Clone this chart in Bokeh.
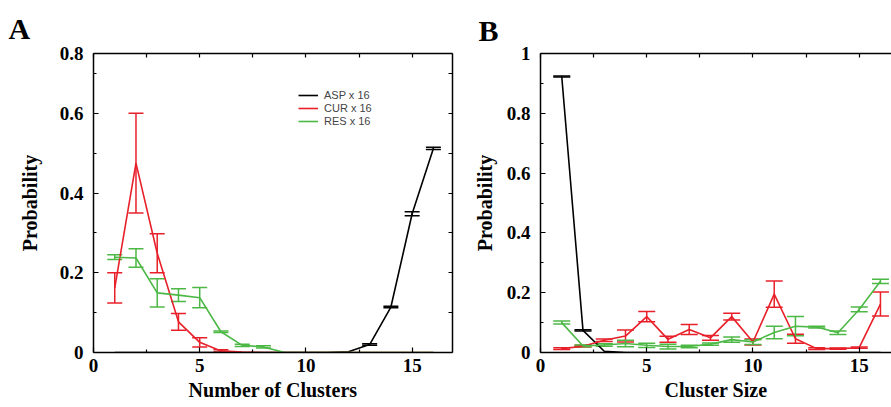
import numpy as np
from bokeh.plotting import figure
from bokeh.layouts import row
from bokeh.models import (Range1d, LinearAxis, FixedTicker, Whisker, TeeHead,
                          ColumnDataSource, Legend, LegendItem, Title)
from bokeh.embed import file_html
from bokeh.resources import INLINE

# ---------------- data ----------------
x = list(range(1, 17))

# Panel A: Number of Clusters
A_ASP = [0, 0, 0, 0, 0, 0, 0, 0, 0, 0, 0, 0.002, 0.02, 0.114, 0.348, 0.512]
A_ASP_err = [0, 0, 0, 0, 0, 0, 0, 0, 0, 0, 0, 0, 0.002, 0.002, 0.005, 0.003]
A_CUR = [0.162, 0.475, 0.249, 0.077, 0.0255, 0.004, 0.001, 0, 0, 0, 0, 0, 0, 0, 0, 0]
A_CUR_err = [0.038, 0.125, 0.049, 0.021, 0.0115, 0.003, 0, 0, 0, 0, 0, 0, 0, 0, 0, 0]
A_RES = [0.239, 0.237, 0.1495, 0.144, 0.1375, 0.052, 0.018, 0.014, 0, 0, 0, 0, 0, 0, 0, 0]
A_RES_err = [0.006, 0.023, 0.0355, 0.016, 0.0255, 0.002, 0.003, 0.003, 0, 0, 0, 0, 0, 0, 0, 0]

# Panel B: Cluster Size
B_ASP = [0.923, 0.074, 0.004, 0, 0, 0, 0, 0, 0, 0, 0, 0, 0, 0, 0, 0]
B_ASP_err = [0.002, 0.002, 0, 0, 0, 0, 0, 0, 0, 0, 0, 0, 0, 0, 0, 0]
B_CUR = [0.013, 0.021, 0.041, 0.055, 0.12, 0.044, 0.077, 0.049, 0.12, 0.035,
         0.195, 0.046, 0.013, 0.013, 0.016, 0.162]
B_CUR_err = [0.003, 0.003, 0.004, 0.02, 0.017, 0.01, 0.017, 0.008, 0.011, 0.01,
             0.044, 0.015, 0.003, 0.002, 0.002, 0.04]
B_RES = [0.1, 0.022, 0.025, 0.03, 0.024, 0.02, 0.02, 0.028, 0.043, 0.035,
         0.067, 0.088, 0.085, 0.066, 0.144, 0.238]
B_RES_err = [0.005, 0.003, 0.004, 0.011, 0.007, 0.008, 0.004, 0.004, 0.009, 0.008,
             0.021, 0.032, 0.003, 0.006, 0.008, 0.007]

series_names = ["ASP x 16", "CUR x 16", "RES x 16"]
x_major = [0, 5, 10, 15]
x_minor = [2.5, 7.5, 12.5]
A_y_major = [0, 0.2, 0.4, 0.6, 0.75]
A_y_minor = [0.1, 0.3, 0.5, 0.7]
A_y_labels = {0.75: "0.8"}
B_y_major = [0, 0.2, 0.4, 0.6, 0.8, 1.0]
B_y_minor = [0.1, 0.3, 0.5, 0.7, 0.9]
B_y_labels = {1.0: "1"}

COLORS = ["#000000", "#e8202a", "#4cb845"]
SERIF = "Liberation Serif"
SANS = "Liberation Sans"


def style_axis(ax):
    ax.axis_line_width = 1.5
    ax.axis_line_color = "black"
    ax.major_tick_in = 5
    ax.major_tick_out = 0
    ax.minor_tick_in = 3
    ax.minor_tick_out = 0
    ax.major_tick_line_width = 1.2
    ax.minor_tick_line_width = 1.2
    ax.major_label_text_font = SERIF
    ax.major_label_text_font_style = "bold"
    ax.major_label_text_font_size = "19px"
    ax.major_label_text_color = "black"
    ax.axis_label_text_font = SERIF
    ax.axis_label_text_font_style = "bold"
    ax.axis_label_text_font_size = "20px"
    ax.axis_label_text_color = "black"


def plain_axis(ticks):
    # tick marks only (all as minor ticks, so no labels are produced)
    ax = LinearAxis(ticker=FixedTicker(ticks=[], minor_ticks=ticks))
    ax.axis_line_width = 1.5
    ax.axis_line_color = "black"
    ax.minor_tick_in = 4
    ax.minor_tick_out = 0
    ax.minor_tick_line_width = 1.2
    ax.major_label_standoff = 0
    return ax


def add_series(p, vals, errs, color, cap):
    src = ColumnDataSource(dict(x=x, y=vals))
    r = p.line("x", "y", source=src, line_color=color, line_width=1.6)
    v = np.array(vals, dtype=float)
    e = np.array(errs, dtype=float)
    m = e > 0
    xs = np.array(x, dtype=float)[m]
    wsrc = ColumnDataSource(dict(x=xs, upper=(v + e)[m], lower=(v - e)[m]))
    w = Whisker(source=wsrc, base="x", upper="upper", lower="lower",
                line_color=color, line_width=1.5,
                upper_head=TeeHead(size=cap, line_color=color, line_width=1.5),
                lower_head=TeeHead(size=cap, line_color=color, line_width=1.5))
    p.add_layout(w)
    return r


def make_panel(width, height, xend, yend, borders, xlabel, yticks, yminor,
               yoverrides, right_axis, cap, data, letter, letter_offset, letter_standoff,
               ytick_standoff, ylabel_standoff):
    bl, br, bt, bb = borders
    p = figure(width=width, height=height, output_backend="svg", toolbar_location=None,
               x_range=Range1d(0, xend), y_range=Range1d(0, yend),
               min_border_left=bl, min_border_right=br, min_border_top=bt,
               min_border_bottom=bb, background_fill_color="white",
               border_fill_color="white", outline_line_color=None)
    p.xgrid.visible = False
    p.ygrid.visible = False

    p.xaxis.ticker = FixedTicker(ticks=x_major, minor_ticks=x_minor)
    p.yaxis.ticker = FixedTicker(ticks=yticks, minor_ticks=yminor)
    p.xaxis.axis_label = xlabel
    p.yaxis.axis_label = "Probability"
    for ax in p.xaxis:
        style_axis(ax)
        ax.major_label_standoff = 6
        ax.axis_label_standoff = 4
    for ax in p.yaxis:
        style_axis(ax)
        ax.major_label_standoff = ytick_standoff
        ax.axis_label_standoff = ylabel_standoff
        ax.major_label_overrides = yoverrides

    p.add_layout(plain_axis(x_major + x_minor), "above")
    if right_axis:
        p.add_layout(plain_axis(yticks + yminor), "right")

    renderers = []
    for (vals, errs), c in zip(data, COLORS):
        renderers.append(add_series(p, vals, errs, c, cap))

    t = Title(text=letter, align="left", offset=letter_offset, standoff=letter_standoff,
              text_font=SERIF, text_font_style="bold", text_font_size="30px",
              text_color="black")
    p.add_layout(t, "above")
    return p, renderers


pA, rA = make_panel(470, 407, 16.9, 0.75, (93, 18, 53, 53), "Number of Clusters",
                    A_y_major, A_y_minor, A_y_labels, True, 15,
                    [(A_ASP, A_ASP_err), (A_CUR, A_CUR_err), (A_RES, A_RES_err)],
                    "A", -85, 17, 10, 16)

legend = Legend(items=[LegendItem(label=n, renderers=[r]) for n, r in zip(series_names, rA)],
                location=(205, 225), orientation="vertical",
                label_text_font=SANS, label_text_font_size="11px",
                glyph_width=20, glyph_height=12, label_height=12, label_standoff=6,
                spacing=1, padding=0, margin=0,
                border_line_color=None, background_fill_alpha=0)
pA.add_layout(legend)

pB, rB = make_panel(421, 407, 16.52, 1.0, (66, 0, 48, 55), "Cluster Size",
                    B_y_major, B_y_minor, B_y_labels, False, 17,
                    [(B_ASP, B_ASP_err), (B_CUR, B_CUR_err), (B_RES, B_RES_err)],
                    "B", -62, 13, 10, 8)

layout = row(pA, pB)
open("out.html", "w").write(file_html(layout, INLINE))
